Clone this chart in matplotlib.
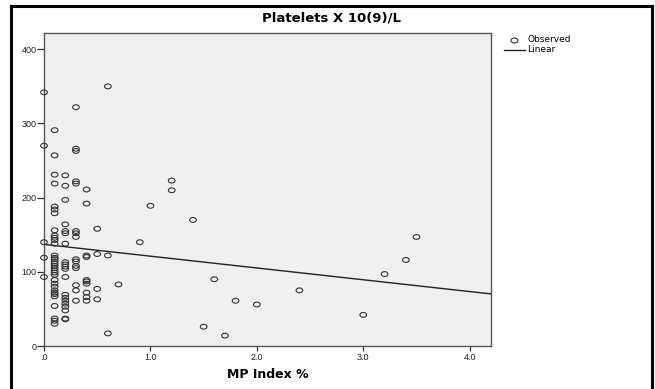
import numpy as np
import matplotlib
matplotlib.use("Agg")
import matplotlib.pyplot as plt
from matplotlib.path import Path
from matplotlib.transforms import Affine2D
from matplotlib.lines import Line2D

plt.rcParams['font.family'] = ['Liberation Sans', 'DejaVu Sans']

# ---- data ----
groups = {
    0.0: [342, 270, 140, 119, 93],
    0.1: [291, 257, 231, 219, 188, 184, 179, 156, 149, 146, 143, 138, 122, 119, 117,
          114, 111, 108, 105, 102, 99, 96, 89, 84, 80, 75, 72, 70, 67, 54, 37, 34, 30],
    0.2: [230, 216, 197, 164, 155, 152, 138, 113, 110, 107, 104, 93, 69, 65, 61, 57,
          53, 48, 37, 36],
    0.3: [322, 266, 263, 222, 219, 155, 152, 147, 117, 114, 108, 105, 82, 75, 61],
    0.4: [211, 192, 122, 120, 89, 87, 84, 72, 66, 61],
    0.5: [158, 124, 77, 63],
    0.6: [350, 122, 17],
    0.7: [83],
    0.9: [140],
    1.0: [189],
    1.2: [223, 210],
    1.4: [170],
    1.5: [26],
    1.6: [90],
    1.7: [14],
    1.8: [61],
    2.0: [56],
    2.4: [75],
    3.0: [42],
    3.2: [97],
    3.4: [116],
    3.5: [147],
}
mp_index = [k for k, v in groups.items() for _ in v]
platelets = [y for v in groups.values() for y in v]

fit_intercept = 137.0
fit_slope = -15.9

x_ticks = [0.0, 1.0, 2.0, 3.0, 4.0]
x_tick_labels = [".0", "1.0", "2.0", "3.0", "4.0"]
y_ticks = [0, 100, 200, 300, 400]
y_tick_labels = ["0", "100", "200", "300", "400"]
x_max = 4.2
y_max = 422

title = "Platelets X 10(9)/L"
x_label = "MP Index %"

# ---- figure ----
fig = plt.figure(figsize=(6.55, 3.89), dpi=100)
ax = fig.add_axes([44/655, 43/389, 447/655, 313/389])
ax.set_facecolor('#F0F0F0')

ellipse = Path.unit_circle().transformed(Affine2D().scale(1.0, 0.72))
ax.scatter(mp_index, platelets, marker=ellipse, s=23, facecolors='none',
           edgecolors='#333333', linewidths=0.8, zorder=3, clip_on=False)

lx = np.array([0.0, x_max])
ax.plot(lx, fit_intercept + fit_slope * lx, color='#222222', lw=1.0, zorder=2)

ax.set_xlim(0, x_max)
ax.set_ylim(0, y_max)
ax.set_xticks(x_ticks)
ax.set_xticklabels(x_tick_labels)
ax.set_yticks(y_ticks)
ax.set_yticklabels(y_tick_labels)
ax.tick_params(direction='out', width=0.9, colors='#333333',
               labelsize=6.5, labelcolor='#222222')
ax.tick_params(axis='x', length=3.5, pad=1.5)
ax.tick_params(axis='y', length=5, pad=0.5)
for s in ax.spines.values():
    s.set_color('#555555')
    s.set_linewidth(1.0)

fig.text(331/655, 1 - 18/389, title, ha='center', va='center',
         fontsize=9.5, fontweight='bold', family='DejaVu Sans')
fig.text(268/655, 1 - 375/389, x_label, ha='center', va='center',
         fontsize=9, fontweight='bold', family='DejaVu Sans')

# legend
fig.add_artist(Line2D([514/655], [1 - 40/389], marker=ellipse, markersize=5,
                      markerfacecolor='none', markeredgecolor='#333333',
                      markeredgewidth=0.8, linestyle='none'))
fig.text(527/655, 1 - 40/389, "Observed", ha='left', va='center', fontsize=6.5,
         family='DejaVu Sans')
fig.add_artist(Line2D([504/655, 525/655], [1 - 50/389, 1 - 50/389],
                      color='#222222', lw=1.0))
fig.text(527/655, 1 - 50/389, "Linear", ha='left', va='center', fontsize=6.5,
         family='DejaVu Sans')

# outer frame
frame_kw = dict(color='black', lw=2.2, solid_capstyle='projecting')
fig.add_artist(Line2D([11/655, 11/655], [0, 1 - 6/389], **frame_kw))
fig.add_artist(Line2D([11/655, 652/655], [1 - 6/389, 1 - 6/389], **frame_kw))
fig.add_artist(Line2D([652/655, 652/655], [0, 1 - 6/389], **frame_kw))

fig.savefig("out.png", dpi=100)
